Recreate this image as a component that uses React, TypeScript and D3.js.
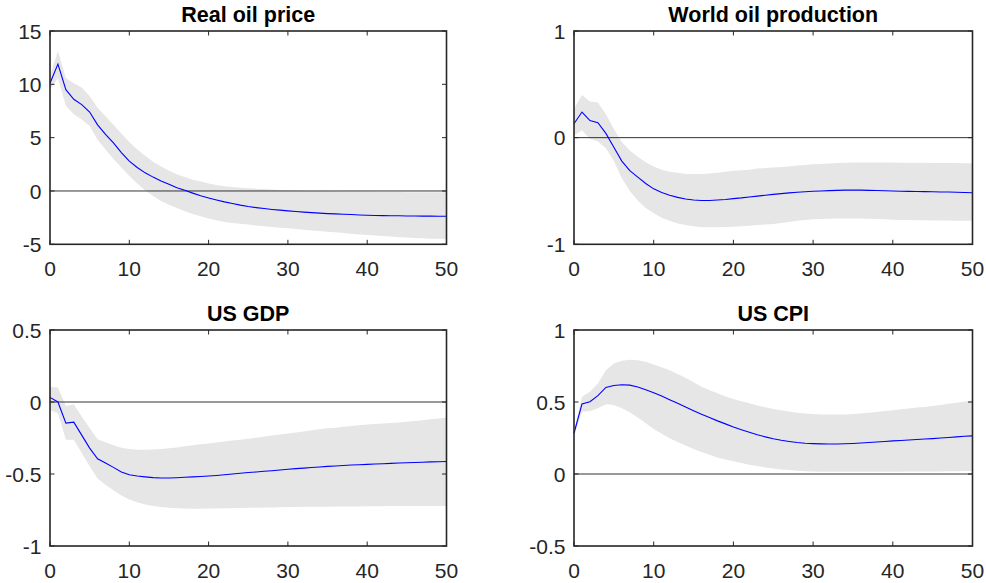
import React from 'react';
import * as d3 from 'd3';

// horizons 0..50
const horizons = d3.range(51);
const xTicks = [0, 10, 20, 30, 40, 50];

const oilPriceMedian = [
  10.1, 11.9, 9.5, 8.6, 8.1, 7.4, 6.2, 5.3, 4.5, 3.6,
  2.8, 2.2, 1.7, 1.3, 0.94, 0.62, 0.31, 0.06, -0.2, -0.45,
  -0.65, -0.84, -1.02, -1.18, -1.33, -1.46, -1.56, -1.65, -1.73, -1.8,
  -1.87, -1.93, -1.98, -2.03, -2.08, -2.12, -2.15, -2.18, -2.21, -2.25,
  -2.28, -2.3, -2.31, -2.32, -2.33, -2.34, -2.35, -2.36, -2.36, -2.37,
  -2.37,
];
const oilPriceUpper = [
  10.8, 13.1, 10.6, 10.1, 9.7, 8.9, 7.8, 7.0, 6.2, 5.4,
  4.6, 3.9, 3.3, 2.75, 2.3, 1.9, 1.56, 1.3, 1.06, 0.88,
  0.7, 0.56, 0.45, 0.37, 0.31, 0.26, 0.22, 0.18, 0.14, 0.1,
  0.07, 0.04, 0.02, 0.0, -0.01, -0.02, -0.03, -0.04, -0.05, -0.06,
  -0.07, -0.08, -0.09, -0.1, -0.1, -0.11, -0.11, -0.12, -0.12, -0.12,
  -0.12,
];
const oilPriceLower = [
  9.5, 10.6, 8.0, 7.2, 6.7, 6.1, 4.8, 3.9, 3.0, 2.2,
  1.4, 0.7, 0.06, -0.47, -0.94, -1.3, -1.6, -1.9, -2.15, -2.38,
  -2.58, -2.75, -2.9, -3.0, -3.08, -3.15, -3.23, -3.3, -3.37, -3.44,
  -3.5, -3.57, -3.64, -3.7, -3.76, -3.82, -3.88, -3.94, -4.0, -4.07,
  -4.13, -4.18, -4.23, -4.28, -4.33, -4.37, -4.41, -4.44, -4.47, -4.49,
  -4.5,
];

const worldProdMedian = [
  0.13, 0.24, 0.16, 0.14, 0.04, -0.09, -0.22, -0.31, -0.37, -0.43,
  -0.48, -0.515, -0.54, -0.56, -0.575, -0.585, -0.59, -0.59, -0.585, -0.58,
  -0.572, -0.565, -0.556, -0.548, -0.54, -0.532, -0.525, -0.518, -0.512, -0.507,
  -0.503, -0.5, -0.497, -0.494, -0.492, -0.491, -0.492, -0.494, -0.496, -0.498,
  -0.5, -0.502, -0.504, -0.505, -0.506, -0.507, -0.509, -0.51, -0.512, -0.514,
  -0.516,
];
const worldProdUpper = [
  0.27, 0.4, 0.34, 0.33, 0.22, 0.08, -0.04, -0.12, -0.18, -0.23,
  -0.27, -0.3, -0.32, -0.33, -0.34, -0.34, -0.34, -0.335, -0.33, -0.32,
  -0.31, -0.305, -0.3, -0.29, -0.285, -0.28, -0.275, -0.27, -0.262, -0.256,
  -0.25, -0.246, -0.242, -0.238, -0.235, -0.233, -0.232, -0.232, -0.232, -0.233,
  -0.234, -0.235, -0.235, -0.236, -0.236, -0.237, -0.237, -0.238, -0.238, -0.239,
  -0.24,
];
const worldProdLower = [
  0.02, 0.07, -0.01, -0.035, -0.1, -0.22, -0.38, -0.5, -0.59, -0.66,
  -0.71, -0.75, -0.78, -0.805, -0.82, -0.83, -0.84, -0.84, -0.84, -0.838,
  -0.835, -0.83, -0.825, -0.82, -0.815, -0.81, -0.8, -0.79, -0.78, -0.772,
  -0.766, -0.762, -0.76, -0.758, -0.757, -0.757, -0.758, -0.76, -0.763, -0.766,
  -0.77, -0.772, -0.773, -0.774, -0.775, -0.776, -0.777, -0.778, -0.779, -0.78,
  -0.78,
];

const gdpMedian = [
  0.032, 0.0, -0.147, -0.14, -0.23, -0.32, -0.394, -0.424, -0.454, -0.486,
  -0.505, -0.514, -0.52, -0.525, -0.528, -0.528, -0.526, -0.523, -0.52, -0.517,
  -0.514, -0.51, -0.505, -0.5, -0.495, -0.49, -0.486, -0.481, -0.477, -0.472,
  -0.467, -0.463, -0.459, -0.455, -0.451, -0.447, -0.444, -0.441, -0.438, -0.436,
  -0.433, -0.431, -0.429, -0.426, -0.424, -0.422, -0.42, -0.418, -0.416, -0.415,
  -0.413,
];
const gdpUpper = [
  0.106, 0.1, -0.028, -0.016, -0.1, -0.18, -0.258, -0.28, -0.3, -0.318,
  -0.327, -0.331, -0.332, -0.33, -0.327, -0.322, -0.316, -0.308, -0.3, -0.294,
  -0.288, -0.282, -0.275, -0.268, -0.262, -0.256, -0.248, -0.24, -0.233, -0.225,
  -0.218, -0.211, -0.204, -0.197, -0.19, -0.183, -0.178, -0.172, -0.167, -0.161,
  -0.156, -0.152, -0.149, -0.145, -0.142, -0.138, -0.132, -0.126, -0.12, -0.114,
  -0.108,
];
const gdpLower = [
  -0.055, -0.078, -0.263, -0.263, -0.355, -0.447, -0.532, -0.574, -0.613, -0.65,
  -0.677, -0.696, -0.712, -0.723, -0.73, -0.735, -0.738, -0.74, -0.741, -0.741,
  -0.74, -0.739, -0.738, -0.737, -0.736, -0.735, -0.734, -0.733, -0.732, -0.731,
  -0.73, -0.729, -0.728, -0.728, -0.727, -0.727, -0.726, -0.726, -0.725, -0.725,
  -0.724, -0.724, -0.724, -0.723, -0.723, -0.723, -0.722, -0.722, -0.722, -0.722,
  -0.722,
];

const cpiMedian = [
  0.283, 0.486, 0.502, 0.544, 0.601, 0.615, 0.62, 0.617, 0.604, 0.585,
  0.565, 0.541, 0.516, 0.491, 0.465, 0.44, 0.415, 0.392, 0.369, 0.348,
  0.327, 0.308, 0.29, 0.273, 0.258, 0.245, 0.234, 0.226, 0.219, 0.214,
  0.211, 0.209, 0.208, 0.208, 0.21, 0.212, 0.215, 0.219, 0.222, 0.226,
  0.23, 0.233, 0.236, 0.24, 0.243, 0.246, 0.25, 0.254, 0.258, 0.262,
  0.265,
];
const cpiUpper = [
  0.3, 0.537, 0.571, 0.629, 0.721, 0.767, 0.786, 0.793, 0.79, 0.779,
  0.76, 0.742, 0.721, 0.695, 0.668, 0.637, 0.606, 0.582, 0.56, 0.539,
  0.52, 0.505, 0.491, 0.476, 0.463, 0.452, 0.443, 0.434, 0.426, 0.42,
  0.416, 0.414, 0.413, 0.413, 0.414, 0.416, 0.42, 0.425, 0.431, 0.437,
  0.443, 0.449, 0.455, 0.461, 0.466, 0.472, 0.479, 0.487, 0.495, 0.503,
  0.51,
];
const cpiLower = [
  0.26, 0.433, 0.438, 0.456, 0.484, 0.479, 0.456, 0.429, 0.392, 0.353,
  0.313, 0.28, 0.249, 0.222, 0.198, 0.174, 0.152, 0.133, 0.115, 0.101,
  0.088, 0.076, 0.065, 0.055, 0.046, 0.039, 0.032, 0.027, 0.022, 0.019,
  0.017, 0.016, 0.016, 0.016, 0.016, 0.016, 0.016, 0.016, 0.016, 0.016,
  0.016, 0.016, 0.017, 0.017, 0.017, 0.018, 0.018, 0.019, 0.019, 0.02,
  0.02,
];

const panels = [
  { title: 'Real oil price', yDomain: [-5, 15], yTicks: [-5, 0, 5, 10, 15], median: oilPriceMedian, upper: oilPriceUpper, lower: oilPriceLower },
  { title: 'World oil production', yDomain: [-1, 1], yTicks: [-1, 0, 1], median: worldProdMedian, upper: worldProdUpper, lower: worldProdLower },
  { title: 'US GDP', yDomain: [-1, 0.5], yTicks: [-1, -0.5, 0, 0.5], median: gdpMedian, upper: gdpUpper, lower: gdpLower },
  { title: 'US CPI', yDomain: [-0.5, 1], yTicks: [-0.5, 0, 0.5, 1], median: cpiMedian, upper: cpiUpper, lower: cpiLower },
];

// axes boxes [left, top, right, bottom]
const boxes = [
  [50, 31, 446.5, 244.3],
  [574, 31, 972.5, 244.3],
  [50, 330, 446.5, 546],
  [574, 330, 972.5, 546],
];

const axisColor = '#262626';
const font = 'Arial, "Liberation Sans", Helvetica, sans-serif';

const Panel = ({ p, box }) => {
  const [l, t, r, b] = box;
  const x = d3.scaleLinear().domain([0, 50]).range([l, r]);
  const y = d3.scaleLinear().domain(p.yDomain).range([b, t]);

  const area = d3.area<number>()
    .x((h) => x(h))
    .y0((h) => y(p.lower[h]))
    .y1((h) => y(p.upper[h]));
  const line = d3.line<number>()
    .x((h) => x(h))
    .y((h) => y(p.median[h]));

  const tickLen = 4.5;
  return (
    <g>
      <path d={area(horizons) || ''} fill="#e6e6e6" stroke="none" />
      <line x1={l} x2={r} y1={y(0)} y2={y(0)} stroke="#333" strokeWidth={1} />
      <path d={line(horizons) || ''} fill="none" stroke="#0000ff" strokeWidth={1.1} />
      {xTicks.map((v) => (
        <g key={'x' + v}>
          <line x1={x(v)} x2={x(v)} y1={b} y2={b - tickLen} stroke={axisColor} strokeWidth={1} />
          <line x1={x(v)} x2={x(v)} y1={t} y2={t + tickLen} stroke={axisColor} strokeWidth={1} />
          <text x={x(v)} y={b + 32} textAnchor="middle" fontSize={21} fill={axisColor} fontFamily={font}>{v}</text>
        </g>
      ))}
      {p.yTicks.map((v) => (
        <g key={'y' + v}>
          <line x1={l} x2={l + tickLen} y1={y(v)} y2={y(v)} stroke={axisColor} strokeWidth={1} />
          <line x1={r} x2={r - tickLen} y1={y(v)} y2={y(v)} stroke={axisColor} strokeWidth={1} />
          <text x={l - 8.5} y={y(v)} dy="0.36em" textAnchor="end" fontSize={21} fill={axisColor} fontFamily={font}>{v}</text>
        </g>
      ))}
      <rect x={l} y={t} width={r - l} height={b - t} fill="none" stroke={axisColor} strokeWidth={1.6} />
      <text x={(l + r) / 2} y={t - 9.5} textAnchor="middle" fontSize={21.5} fontWeight="bold" fill="#000" fontFamily={font}>{p.title}</text>
    </g>
  );
};

export default function App() {
  return (
    <div style={{ position: 'absolute', left: 0, top: 0 }}>
      <svg width={986} height={583} style={{ display: 'block', background: '#fff' }}>
        {panels.map((p, i) => (
          <Panel key={p.title} p={p} box={boxes[i]} />
        ))}
      </svg>
    </div>
  );
}
